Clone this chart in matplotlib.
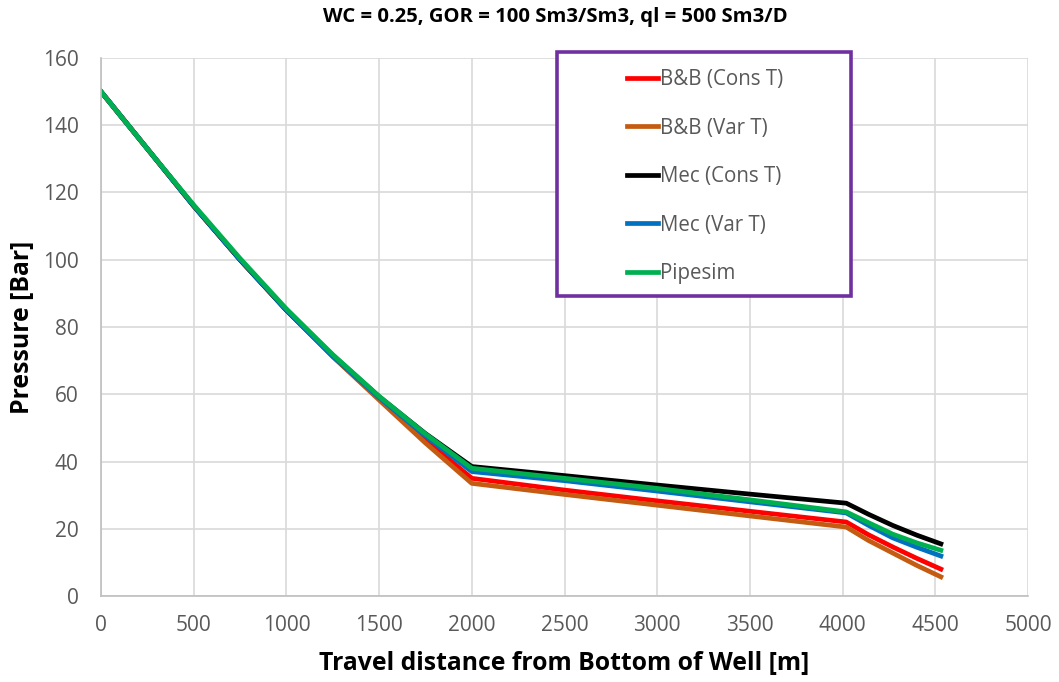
import matplotlib
matplotlib.use("Agg")
import matplotlib.pyplot as plt
from matplotlib.patches import Rectangle

title = "WC = 0.25, GOR = 100 Sm3/Sm3, ql = 500 Sm3/D"
xlabel = "Travel distance from Bottom of Well [m]"
ylabel = "Pressure [Bar]"

distance = [0, 250, 500, 750, 1000, 1250, 1500, 1750, 2000, 2500, 3000, 3500, 4020,
            4140, 4270, 4400, 4530]

bb_cons = [150, 133, 116, 100, 85, 71.3, 58.6, 46.5, 35.0, 31.5, 28.3, 25.2, 22.0,
           18.2, 14.6, 11.2, 8.0]
bb_var = [150, 133, 116, 100, 85, 71.2, 58.3, 45.5, 33.5, 30.2, 27.0, 23.8, 20.5,
          16.5, 12.8, 9.1, 5.7]
mec_cons = [150, 133, 116, 100, 85, 71.6, 59.3, 48.3, 38.5, 35.8, 33.0, 30.3, 27.6,
            24.3, 21.0, 18.1, 15.5]
mec_var = [150, 133, 116, 100, 85, 71.3, 59.0, 47.6, 37.0, 34.3, 31.2, 28.0, 24.7,
           21.0, 17.3, 14.5, 11.9]
pipesim = [150, 133, 116.3, 100.4, 85.4, 71.8, 59.4, 48.2, 38.0, 35.0, 32.0, 28.6, 25.0,
           21.8, 18.4, 15.8, 13.6]

series = [
    ("B&B (Cons T)", bb_cons, "#FF0000"),
    ("B&B (Var T)", bb_var, "#C55A11"),
    ("Mec (Cons T)", mec_cons, "#000000"),
    ("Mec (Var T)", mec_var, "#0070C0"),
    ("Pipesim", pipesim, "#00B050"),
]

plt.rcParams['font.family'] = ['Open Sans', 'DejaVu Sans']

W, H = 1059, 682
fig = plt.figure(figsize=(W / 100, H / 100), dpi=100)
ax = fig.add_axes([101 / W, 1 - 596 / H, 927 / W, 538 / H])

for name, vals, color in series:
    ax.plot(distance, vals, color=color, lw=3.4, label=name)

ax.set_xlim(0, 5000)
ax.set_ylim(0, 160)
ax.set_xticks(range(0, 5001, 500))
ax.set_yticks(range(0, 161, 20))
ax.grid(True, color="#D9D9D9", lw=1.2)
ax.set_axisbelow(True)
for s in ["top", "right"]:
    ax.spines[s].set_visible(False)
for s in ["left", "bottom"]:
    ax.spines[s].set_color("#BFBFBF")
    ax.spines[s].set_linewidth(1.2)
ax.tick_params(axis='both', length=0, labelsize=15, labelcolor="#595959")
ax.tick_params(axis='y', pad=16)
ax.tick_params(axis='x', pad=14)

ax.set_xlabel(xlabel, fontsize=17.8, fontweight='bold', va='center')
ax.xaxis.set_label_coords(0.5, (596 - 663) / 538)
ax.set_ylabel(ylabel, fontsize=17.8, fontweight='bold', va='center')
ax.yaxis.set_label_coords((22 - 101) / 927, 0.5)
fig.text(555.5 / W, 1 - 17 / H, title, fontsize=14.6, fontweight='bold',
         ha='center', va='center')

# legend box
box = Rectangle((557 / W, 1 - 296 / H), 294 / W, 244 / H, transform=fig.transFigure,
                facecolor='white', edgecolor='#7030A0', lw=2.6, zorder=5, clip_on=False)
ax.add_patch(box)

leg = ax.legend(loc='upper left', bbox_to_anchor=(627 / W, 1 - 69 / H),
                bbox_transform=fig.transFigure, frameon=False,
                fontsize=14.8, handlelength=1.5, handletextpad=0.1,
                labelspacing=1.34, borderpad=0, borderaxespad=0)
leg.set_zorder(6)
for t in leg.get_texts():
    t.set_color("#595959")

fig.savefig("out.png", dpi=100)
